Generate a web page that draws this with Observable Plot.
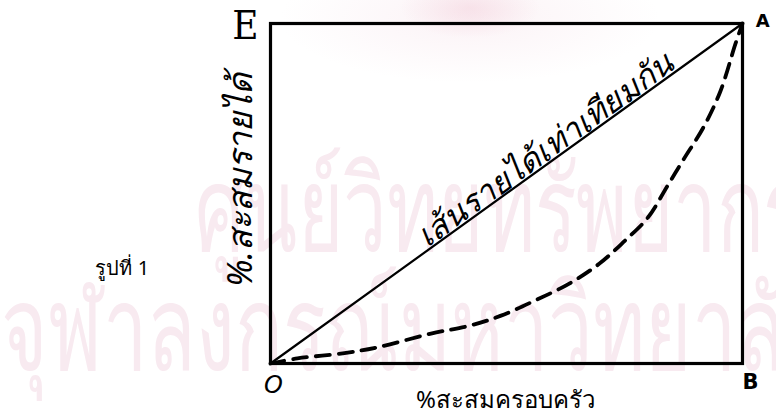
<!DOCTYPE html>
<html>
<head>
<meta charset="utf-8">
<script src="https://cdn.jsdelivr.net/npm/d3@7"></script>
<script src="https://cdn.jsdelivr.net/npm/@observablehq/plot@0.6"></script>
<style>
  html, body { margin: 0; padding: 0; background: #ffffff; }
  #chart {
    width: 776px; height: 416px; overflow: hidden;
    background:
      radial-gradient(ellipse 70px 30px at 470px 8px, rgba(225,130,160,0.16), rgba(255,255,255,0) 100%),
      radial-gradient(ellipse 190px 65px at 470px 18px, rgba(240,205,218,0.25), rgba(255,255,255,0) 100%),
      #ffffff;
  }
  svg { display: block; background: transparent !important; }
</style>
</head>
<body>
<div id="chart"></div>
<script>
// Cumulative % of families (x) vs cumulative % of income (y)
const familyPct = [0, 5.7, 15.3, 22.5, 34, 42.4, 48.7, 56, 63.3, 69.7, 75, 80, 84, 87.5, 91.7, 95.3, 98.5, 100];
const incomePct = [0, 1.5, 3, 4.7, 8.8, 11.2, 14, 18.5, 23.5, 29.4, 36, 43, 52, 60, 69.4, 80, 94, 100];
const equalityX = [0, 100];
const equalityY = [0, 100];

const xLabel = "%สะสมครอบครัว";
const yLabel = "%.สะสมรายได้";
const diagLabel = "เส้นรายได้เท่าเทียมกัน";
const figLabel = "รูปที่ 1";
const cornerLabels = ["O", "B", "A", "E"];
const watermarkLines = ["ศูนย์วิทยทรัพยากร", "จุฬาลงกรณ์มหาวิทยาลัย"];

const lorenz = familyPct.map((x, i) => ({x, y: incomePct[i]}));
const equality = equalityX.map((x, i) => ({x, y: equalityY[i]}));

const thaiFont = "'Noto Sans', 'DejaVu Sans', sans-serif";

const chart = Plot.plot({
  width: 776,
  height: 416,
  marginLeft: 270,
  marginRight: 34,
  marginTop: 23,
  marginBottom: 53,
  x: {domain: [0, 100], axis: null},
  y: {domain: [0, 100], axis: null},
  style: {background: "transparent", overflow: "visible"},
  marks: [
    // faint watermark
    Plot.text([watermarkLines[0]], {x: -16, y: 33, text: d => d, textAnchor: "start", lineAnchor: "bottom",
      fontSize: 118, fill: "#f8eaf0", fontFamily: thaiFont}),
    Plot.text([watermarkLines[1]], {x: -57, y: -2, text: d => d, textAnchor: "start", lineAnchor: "bottom",
      fontSize: 118, fill: "#f8eaf0", fontFamily: thaiFont}),
    Plot.frame({stroke: "#000", strokeWidth: 3.2}),
    Plot.line(equality, {x: "x", y: "y", stroke: "#000", strokeWidth: 2.2}),
    Plot.line(lorenz, {x: "x", y: "y", stroke: "#000", strokeWidth: 3.8, strokeDasharray: "14,9", curve: "catmull-rom"}),
    Plot.text([diagLabel], {x: 58.3, y: 62.8, text: d => d, rotate: -35.8, fontSize: 32, fill: "#000",
      fontFamily: thaiFont, fontStyle: "italic"}),
    Plot.text([xLabel], {x: 49.8, y: -10.8, text: d => d, fontSize: 24, fill: "#000", fontFamily: thaiFont}),
    Plot.text([yLabel], {x: -6.2, y: 54, text: d => d, rotate: -90, fontSize: 34, fill: "#000",
      fontFamily: thaiFont, fontStyle: "italic"}),
    Plot.text([figLabel], {x: -31.4, y: 28, text: d => d, fontSize: 20, fill: "#000", fontFamily: thaiFont}),
    Plot.text([cornerLabels[0]], {x: 0.6, y: -6.5, text: d => d, fontSize: 24, fill: "#000",
      fontFamily: "'DejaVu Sans', sans-serif", fontStyle: "italic"}),
    Plot.text([cornerLabels[1]], {x: 101.7, y: -5.4, text: d => d, fontSize: 21, fontWeight: "bold", fill: "#000",
      fontFamily: "'DejaVu Sans', sans-serif"}),
    Plot.text([cornerLabels[2]], {x: 104.3, y: 100.6, text: d => d, fontSize: 18, fontWeight: "bold", fill: "#000",
      fontFamily: "'DejaVu Sans', sans-serif"}),
    Plot.text([cornerLabels[3]], {x: -5.3, y: 99.1, text: d => d, fontSize: 40, fill: "#000",
      fontFamily: "'DejaVu Serif Condensed', 'DejaVu Serif', serif"})
  ]
});

const svgSel = d3.select(chart);
svgSel.selectAll("text").filter(function () { return this.textContent === watermarkLines[0]; })
  .attr("textLength", 610).attr("lengthAdjust", "spacingAndGlyphs");
svgSel.selectAll("text").filter(function () { return this.textContent === watermarkLines[1]; })
  .attr("textLength", 830).attr("lengthAdjust", "spacingAndGlyphs");

document.getElementById("chart").appendChild(chart);
</script>
</body>
</html>
